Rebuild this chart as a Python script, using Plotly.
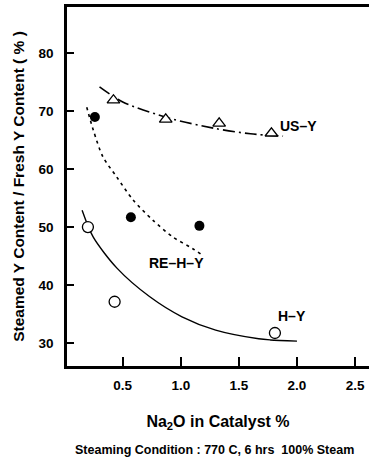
import plotly.graph_objects as go

# Data points
usy_x = [0.42, 0.87, 1.33, 1.78]
usy_y = [71.9, 68.6, 67.9, 66.2]
rehy_x = [0.26, 0.57, 1.16]
rehy_y = [69.0, 51.7, 50.2]
hy_x = [0.20, 0.43, 1.81]
hy_y = [50.0, 37.1, 31.7]

# Fitted curves
usy_cx = [0.30, 0.50, 0.90, 1.30, 1.60, 1.88]
usy_cy = [74.2, 71.6, 68.8, 67.0, 66.1, 65.7]
rehy_cx = [0.19, 0.247, 0.33, 0.446, 0.588, 0.758, 0.93, 1.10, 1.18]
rehy_cy = [70.7, 66.7, 62.1, 58.7, 54.7, 51.2, 48.3, 46.3, 45.2]
hy_cx = [0.15, 0.245, 0.45, 0.73, 1.01, 1.30, 1.67, 1.77, 2.00]
hy_cy = [52.9, 48.3, 42.9, 38.0, 34.5, 32.2, 30.7, 30.5, 30.3]

x_ticks = [0.5, 1.0, 1.5, 2.0, 2.5]
x_ticklabels = ["0.5", "1.0", "1.5", "2.0", "2.5"]
y_ticks = [30, 40, 50, 60, 70, 80]

FONT = "Liberation Sans"

fig = go.Figure()
fig.add_trace(go.Scatter(x=usy_cx, y=usy_cy, mode="lines", line=dict(color="black", width=1.6, dash="12px,4px,2px,4px", shape="spline", smoothing=0.8), showlegend=False))
fig.add_trace(go.Scatter(x=rehy_cx, y=rehy_cy, mode="lines", line=dict(color="black", width=1.6, dash="3px,4px", shape="spline", smoothing=0.8), showlegend=False))
fig.add_trace(go.Scatter(x=hy_cx, y=hy_cy, mode="lines", line=dict(color="black", width=1.4, shape="spline", smoothing=0.8), showlegend=False))
fig.add_trace(go.Scatter(x=usy_x, y=usy_y, mode="markers", marker=dict(symbol="triangle-up", size=11, color="white", line=dict(color="black", width=1.3)), showlegend=False))
fig.add_trace(go.Scatter(x=rehy_x, y=rehy_y, mode="markers", marker=dict(symbol="circle", size=10, color="black"), showlegend=False))
fig.add_trace(go.Scatter(x=hy_x, y=hy_y, mode="markers", marker=dict(symbol="circle", size=11, color="white", line=dict(color="black", width=1.3)), showlegend=False))

ann_font = dict(family=FONT, size=14, color="black")
fig.add_annotation(x=1.84, y=67.4, text="<b>US–Y</b>", showarrow=False, xanchor="left", font=ann_font)
fig.add_annotation(x=0.96, y=43.8, text="<b>RE–H–Y</b>", showarrow=False, font=ann_font)
fig.add_annotation(x=1.96, y=34.7, text="<b>H–Y</b>", showarrow=False, font=ann_font)

fig.update_layout(
    width=369, height=460,
    margin=dict(l=67, r=0, t=7, b=94),
    paper_bgcolor="white", plot_bgcolor="white",
    font=dict(family=FONT, color="black"),
    xaxis=dict(range=[0.02, 2.62], tickvals=x_ticks, ticktext=[f"<b>{t}</b>" for t in x_ticklabels],
               ticks="inside", ticklen=9, tickwidth=1.5, tickcolor="black",
               showline=True, linewidth=2.5, linecolor="black", mirror=True,
               showgrid=False, zeroline=False, tickfont=dict(size=13.5, family=FONT),
               ticklabelstandoff=5,
               title=dict(text="<b>Na<sub>2</sub>O in Catalyst %</b>", font=dict(size=16, family=FONT), standoff=24)),
    yaxis=dict(range=[26, 88], tickvals=y_ticks, ticktext=[f"<b>{t}</b>" for t in y_ticks],
               ticks="inside", ticklen=7, tickwidth=1.5, tickcolor="black",
               showline=True, linewidth=2.5, linecolor="black",
               showgrid=False, zeroline=False, tickfont=dict(size=13.5, family=FONT),
               ticklabelstandoff=8,
               title=dict(text="<b>Steamed Y Content / Fresh Y Content ( % )</b>", font=dict(size=15.5, family=FONT), standoff=11)),
)
fig.add_annotation(x=0.5, xref="paper", y=-0.234, yref="paper", yanchor="middle",
                   xshift=-4, text="<b>Steaming Condition : 770 C, 6 hrs  100% Steam</b>",
                   showarrow=False, font=dict(size=12.5, family=FONT, color="black"))

fig.write_html("out.html")
